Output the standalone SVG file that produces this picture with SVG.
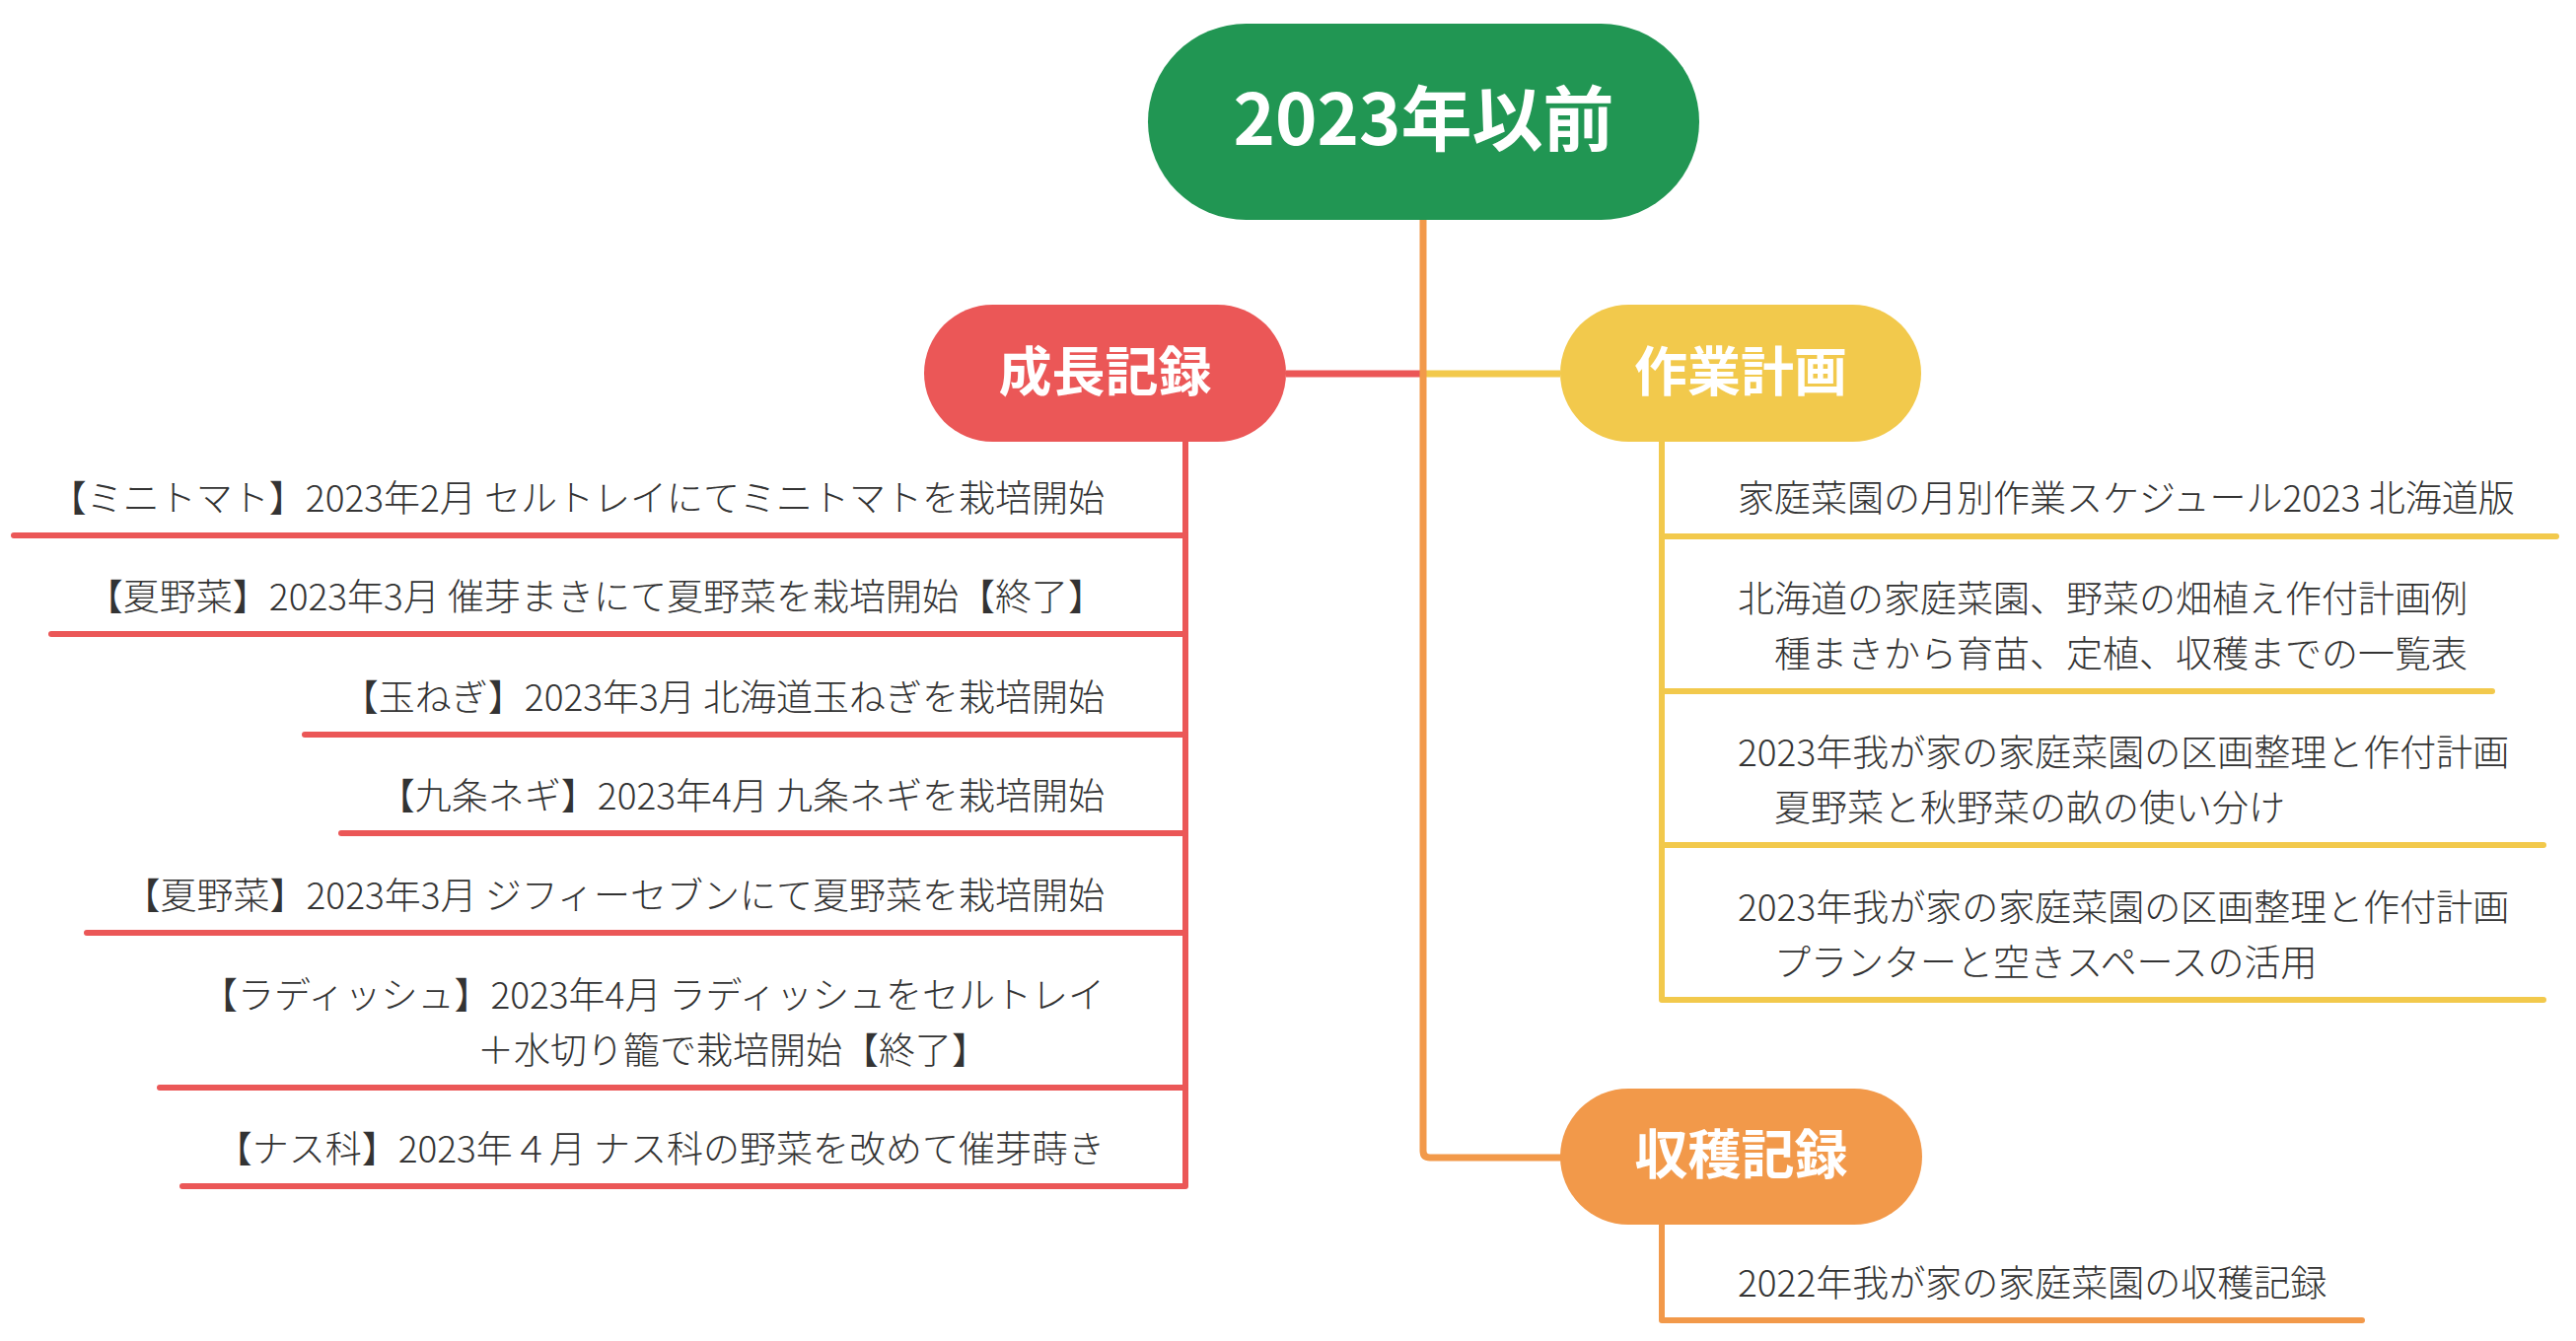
<svg xmlns="http://www.w3.org/2000/svg" width="2612" height="1360" viewBox="0 0 2612 1360">
<style>
.t{font-family:"Noto Sans CJK JP","Noto Sans",sans-serif;font-size:37px;font-weight:300;fill:#333}
.e{text-anchor:end}
.nt{font-family:"Noto Sans CJK JP","Noto Sans",sans-serif;font-weight:700;fill:#fff;text-anchor:middle}
.ln{fill:none;stroke-width:6;stroke-linecap:round;stroke-linejoin:round}
.red{stroke:#EB5757}.yel{stroke:#F2C94C}.org{stroke:#F2994A}
</style>
<rect width="2612" height="1360" fill="#fff"/>
<g id="connectors">
<path d="M1304 379H1443" stroke="#EB5757" stroke-width="7" fill="none"/>
<path d="M1443 379H1582" stroke="#F2C94C" stroke-width="7" fill="none"/>
<path d="M1443 223V1167Q1443 1174 1450 1174H1583" stroke="#F2994A" stroke-width="7" fill="none" stroke-linejoin="round"/>
<path class="ln red" d="M1202 447V1203H185"/>
<path class="ln yel" d="M1685 448V1014H2579"/>
<path class="ln org" d="M1685 1242V1339H2395"/>
</g>
<g id="root">
<rect x="1164" y="24" width="559" height="199" rx="99.5" fill="#219653"/>
<text class="nt" x="1443.5" y="147" font-size="72">2023年以前</text>
</g>
<g id="growth">
<rect x="937" y="309" width="367" height="139" rx="69.5" fill="#EB5757"/>
<text class="nt" x="1120.5" y="397" font-size="54">成長記録</text>
</g>
<g id="plan">
<rect x="1582" y="309" width="366" height="139" rx="69.5" fill="#F2C94C"/>
<text class="nt" x="1765" y="397" font-size="54">作業計画</text>
</g>
<g id="harvest">
<rect x="1582" y="1104" width="367" height="138" rx="69" fill="#F2994A"/>
<text class="nt" x="1765.5" y="1191" font-size="54">収穫記録</text>
</g>
<g id="g1"><path class="ln red" d="M14 543H1202"/><text class="t e" x="1120" y="519">【ミニトマト】2023年2月 セルトレイにてミニトマトを栽培開始</text></g>
<g id="g2"><path class="ln red" d="M52 643H1202"/><text class="t e" x="1120" y="619">【夏野菜】2023年3月 催芽まきにて夏野菜を栽培開始【終了】</text></g>
<g id="g3"><path class="ln red" d="M309 745H1202"/><text class="t e" x="1120" y="721">【玉ねぎ】2023年3月 北海道玉ねぎを栽培開始</text></g>
<g id="g4"><path class="ln red" d="M346 845H1202"/><text class="t e" x="1120" y="821">【九条ネギ】2023年4月 九条ネギを栽培開始</text></g>
<g id="g5"><path class="ln red" d="M88 946H1202"/><text class="t e" x="1120" y="922">【夏野菜】2023年3月 ジフィーセブンにて夏野菜を栽培開始</text></g>
<g id="g6"><path class="ln red" d="M162 1103H1202"/><text class="t e" x="1120" y="1023">【ラディッシュ】2023年4月 ラディッシュをセルトレイ</text><text class="t" x="484" y="1079">＋水切り籠で栽培開始【終了】</text></g>
<g id="g7"><text class="t e" x="1120" y="1179">【ナス科】2023年４月 ナス科の野菜を改めて催芽蒔き</text></g>
<g id="p1"><path class="ln yel" d="M1685 544H2592"/><text class="t" x="1762" y="519">家庭菜園の月別作業スケジュール2023 北海道版</text></g>
<g id="p2"><path class="ln yel" d="M1685 701H2527"/><text class="t" x="1762" y="621">北海道の家庭菜園、野菜の畑植え作付計画例</text><text class="t" x="1762" y="677">　種まきから育苗、定植、収穫までの一覧表</text></g>
<g id="p3"><path class="ln yel" d="M1685 857H2579"/><text class="t" x="1762" y="777">2023年我が家の家庭菜園の区画整理と作付計画</text><text class="t" x="1762" y="833">　夏野菜と秋野菜の畝の使い分け</text></g>
<g id="p4"><text class="t" x="1762" y="934">2023年我が家の家庭菜園の区画整理と作付計画</text><text class="t" x="1762" y="990">　プランターと空きスペースの活用</text></g>
<g id="h1"><text class="t" x="1762" y="1315">2022年我が家の家庭菜園の収穫記録</text></g>
</svg>
